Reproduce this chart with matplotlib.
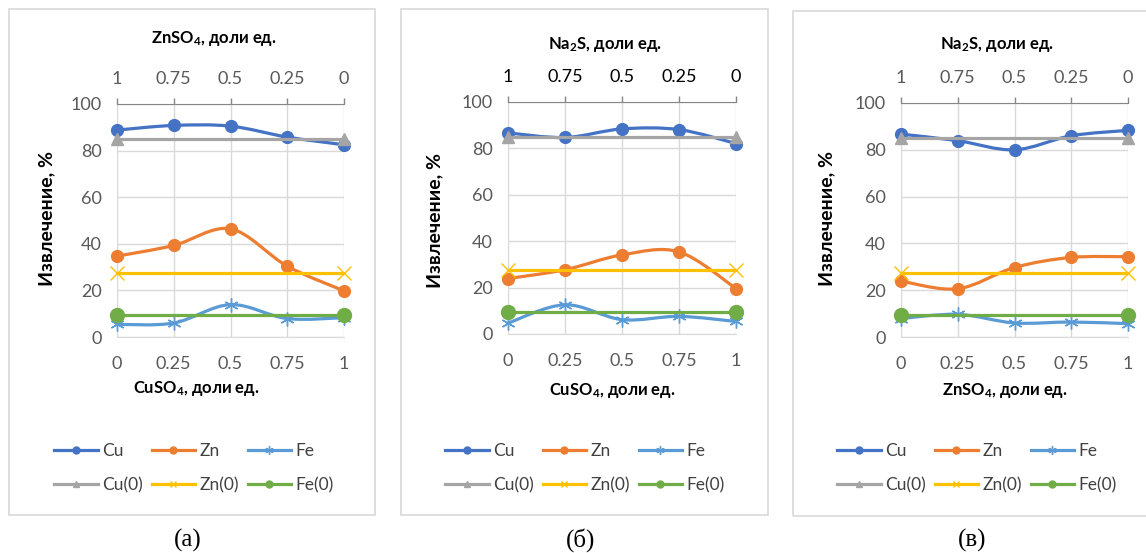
import numpy as np
import matplotlib
matplotlib.use("Agg")
import matplotlib.pyplot as plt
from matplotlib.path import Path
from matplotlib.patches import PathPatch, Rectangle
from matplotlib.lines import Line2D

plt.rcParams["font.family"] = ["Lato", "DejaVu Sans"]
plt.rcParams["mathtext.fontset"] = "custom"
plt.rcParams["mathtext.bf"] = "Lato:bold"
plt.rcParams["mathtext.rm"] = "Lato:bold"
plt.rcParams["mathtext.default"] = "bf"

# ---- данные ----
x_frac = [0, 0.25, 0.5, 0.75, 1]
x_labels = ["0", "0.25", "0.5", "0.75", "1"]
top_labels = ["1", "0.75", "0.5", "0.25", "0"]

cu_a = [88.8, 90.8, 90.5, 85.8, 82.5]
zn_a = [34.7, 39.3, 46.4, 30.4, 19.8]
fe_a = [5.4, 6.0, 13.9, 7.9, 8.3]

cu_b = [86.7, 84.7, 88.4, 88.1, 82.1]
zn_b = [23.9, 27.7, 34.1, 35.4, 19.6]
fe_b = [4.7, 12.6, 6.2, 7.6, 5.4]

cu_c = [86.7, 83.9, 80.0, 86.0, 88.3]
zn_c = [23.9, 20.6, 29.7, 34.0, 34.3]
fe_c = [7.9, 9.7, 6.0, 6.4, 5.7]

cu0 = 85.0
zn0 = 27.5
fe0 = 9.3

top_titles = ["ZnSO$_4$, доли ед.", "Na$_2$S, доли ед.", "Na$_2$S, доли ед."]
bottom_titles = ["CuSO$_4$, доли ед.", "CuSO$_4$, доли ед.", "ZnSO$_4$, доли ед."]
panel_labels = ["(а)", "(б)", "(в)"]

W, H = 1146, 553
C_CU, C_ZN, C_FE = "#4472C4", "#ED7D31", "#5B9BD5"
C_CU0, C_ZN0, C_FE0 = "#A5A5A5", "#FFC000", "#70AD47"
GRID = "#D9D9D9"
TXT = "#595959"
ASTER = (6, 2, 0)


def fx(px):
    return px / W


def fy(py):
    return 1 - py / H


def smooth(ax, xs, ys, color):
    # сглаженная линия как в Excel (кривые Безье)
    pts = np.column_stack([xs, ys]).astype(float)
    n = len(pts)
    verts = [pts[0]]
    codes = [Path.MOVETO]
    for i in range(n - 1):
        p0 = pts[i - 1] if i > 0 else pts[i]
        p1, p2 = pts[i], pts[i + 1]
        p3 = pts[i + 2] if i + 2 < n else pts[i + 1]
        verts += [p1 + (p2 - p0) / 6, p2 - (p3 - p1) / 6, p2]
        codes += [Path.CURVE4] * 3
    ax.add_patch(PathPatch(Path(verts, codes), fill=False, edgecolor=color,
                           lw=2.3, clip_on=False, capstyle="round",
                           joinstyle="round"))


# пиксельная разметка панелей: (лево, право, верх, низ) области построения
layout = [
    dict(ax=(117, 344, 104, 337), frame=(9, 375, 9, 515), top_t=(214, 38),
         bot_t=(196, 389), ylab=(47, 219), leg=(194, 468), lab=(188, 540),
         top_col=TXT),
    dict(ax=(508, 736, 102, 334), frame=(401, 768, 9, 515), top_t=(605, 45),
         bot_t=(612, 390), ylab=(435, 221), leg=(585, 468), lab=(581, 540),
         top_col="#000000"),
    dict(ax=(901, 1128, 103, 337), frame=(793, 1160, 11, 516), top_t=(997, 45),
         bot_t=(1005, 391), ylab=(827, 218), leg=(977, 468), lab=(972, 540),
         top_col=TXT),
]
series = [(cu_a, zn_a, fe_a), (cu_b, zn_b, fe_b), (cu_c, zn_c, fe_c)]

fig = plt.figure(figsize=(W / 100, H / 100), dpi=100)

for k, (lay, (cu, zn, fe)) in enumerate(zip(layout, series)):
    fl, fr, ft, fb = lay["frame"]
    fig.add_artist(Rectangle((fx(fl), fy(fb)), fx(fr - fl), (fb - ft) / H,
                             transform=fig.transFigure, fill=False,
                             edgecolor="#D9D9D9", lw=1.2))

    l, r, t, b = lay["ax"]
    ax = fig.add_axes([fx(l), fy(b), fx(r - l), (b - t) / H])
    ax.set_xlim(0, 1)
    ax.set_ylim(0, 100)
    ax.set_xticks(x_frac)
    ax.set_xticklabels(x_labels)
    ax.set_yticks(range(0, 101, 20))
    ax.grid(True, color=GRID, lw=1)
    ax.set_axisbelow(True)
    for s in ("left", "right", "top"):
        ax.spines[s].set_visible(False)
    ax.spines["bottom"].set_color(GRID)
    ax.tick_params(axis="both", length=0, labelsize=13, labelcolor=TXT)
    ax.tick_params(axis="x", pad=14)
    ax.tick_params(axis="y", pad=11)

    top = ax.twiny()
    top.set_xlim(0, 1)
    top.set_xticks(x_frac)
    top.set_xticklabels(top_labels)
    for s in ("left", "right", "bottom"):
        top.spines[s].set_visible(False)
    top.spines["top"].set_color("#868686")
    top.tick_params(axis="x", direction="out", length=4, width=1,
                    color="#868686", labelsize=13, labelcolor=lay["top_col"],
                    pad=8)

    smooth(ax, x_frac, cu, C_CU)
    ax.plot(x_frac, cu, ls="none", marker="o", ms=8.5, color=C_CU, clip_on=False)
    smooth(ax, x_frac, zn, C_ZN)
    ax.plot(x_frac, zn, ls="none", marker="o", ms=8.5, color=C_ZN, clip_on=False)
    smooth(ax, x_frac, fe, C_FE)
    ax.plot(x_frac, fe, ls="none", marker=ASTER, ms=10, mew=1, color=C_FE,
            clip_on=False)
    ax.plot([0, 1], [cu0, cu0], color=C_CU0, lw=2.3, marker="^", ms=9,
            clip_on=False)
    ax.plot([0, 1], [zn0, zn0], color=C_ZN0, lw=2.3, marker="x", ms=10, mew=1,
            clip_on=False)
    ax.plot([0, 1], [fe0, fe0], color=C_FE0, lw=2.3, marker="o", ms=10,
            clip_on=False)

    tx, ty = lay["top_t"]
    fig.text(fx(tx), fy(ty), top_titles[k], ha="center", va="center",
             fontsize=12, fontweight="bold", color="black")
    bx, by = lay["bot_t"]
    fig.text(fx(bx), fy(by), bottom_titles[k], ha="center", va="center",
             fontsize=12, fontweight="bold", color="black")
    yx, yy = lay["ylab"]
    fig.text(fx(yx), fy(yy), "Извлечение, %", ha="center", va="center",
             rotation=90, fontsize=14, fontweight="bold", color="black")

    handles = [
        Line2D([], [], color=C_CU, lw=2.3, marker="o", ms=5),
        Line2D([], [], color=C_CU0, lw=2.3, marker="^", ms=5),
        Line2D([], [], color=C_ZN, lw=2.3, marker="o", ms=5),
        Line2D([], [], color=C_ZN0, lw=2.3, marker="x", ms=5, mew=1),
        Line2D([], [], color=C_FE, lw=2.3, marker=ASTER, ms=6, mew=1),
        Line2D([], [], color=C_FE0, lw=2.3, marker="o", ms=5),
    ]
    names = ["Cu", "Cu(0)", "Zn", "Zn(0)", "Fe", "Fe(0)"]
    lx, ly = lay["leg"]
    fig.legend(handles, names, loc="center", bbox_to_anchor=(fx(lx), fy(ly)),
               ncol=3, frameon=False, fontsize=12.5, handlelength=2.5,
               handletextpad=0.25, columnspacing=0.5, labelspacing=1.05,
               labelcolor="#404040", borderpad=0)

    px, py = lay["lab"]
    fig.text(fx(px), fy(py), panel_labels[k], ha="center", va="center",
             fontsize=18, family="Liberation Serif", color="black")

fig.savefig("out.png", dpi=100)
